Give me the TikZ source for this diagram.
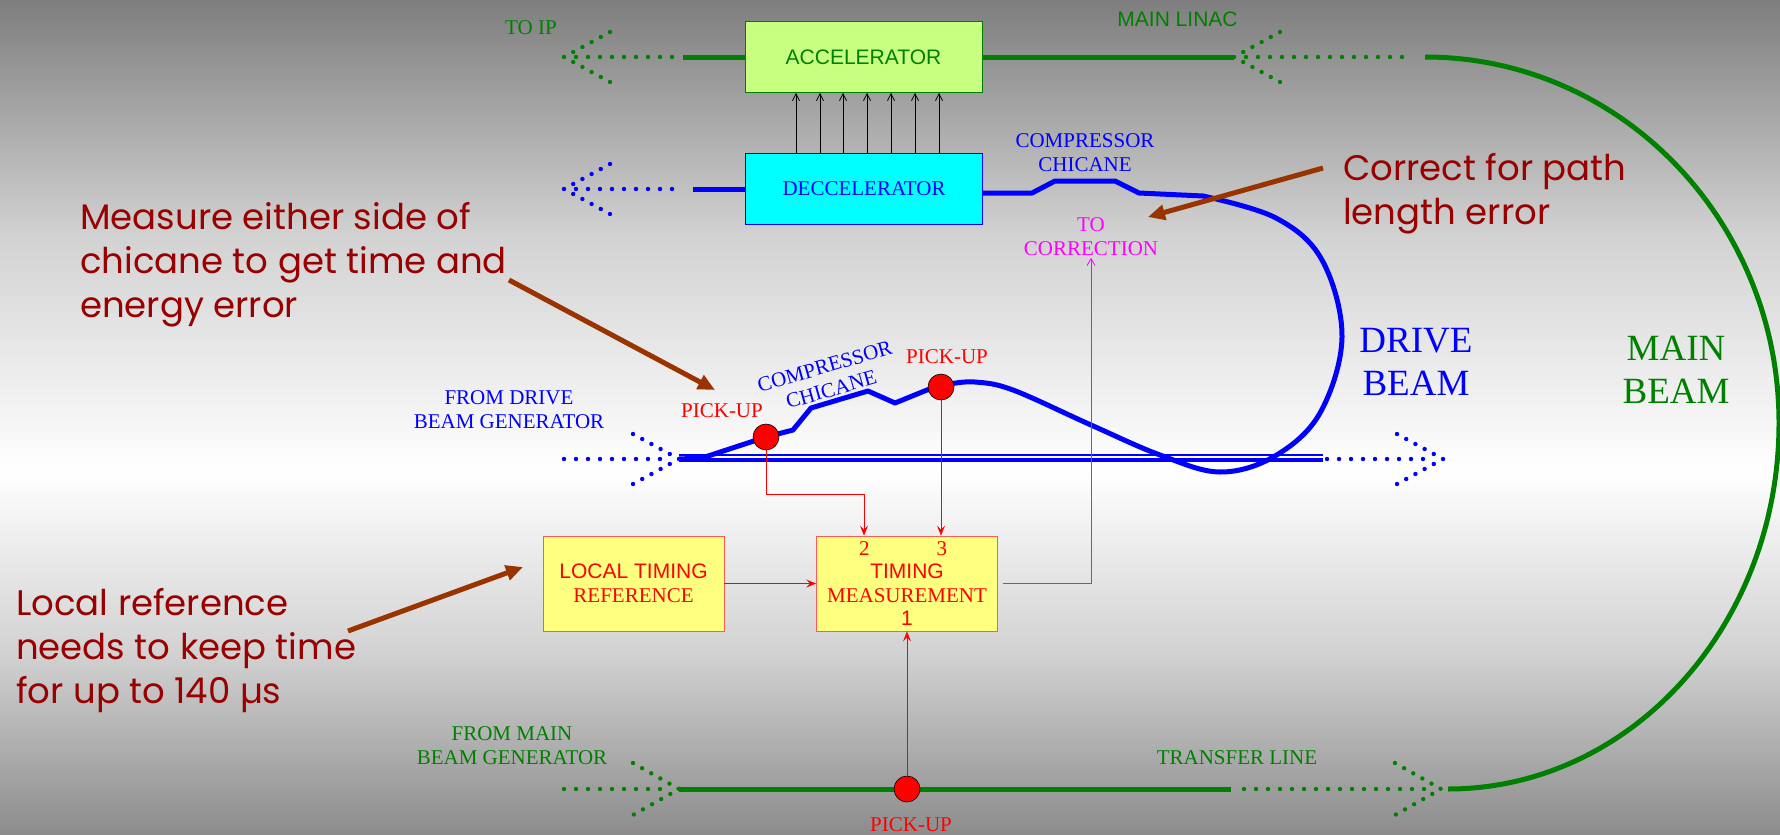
\documentclass[tikz,border=0pt]{standalone}
\usepackage{fontspec}
\setmainfont{Liberation Serif}
\setsansfont{Liberation Sans}
\newfontfamily\notefont{Poppins}
\usetikzlibrary{arrows.meta}

\definecolor{beamgreen}{RGB}{0,128,0}
\definecolor{beamblue}{RGB}{0,0,255}
\definecolor{decfill}{RGB}{0,255,255}
\definecolor{corrmag}{RGB}{255,0,255}
\definecolor{notered}{RGB}{153,0,0}
\definecolor{notebrown}{RGB}{153,51,0}
\definecolor{accfill}{RGB}{200,255,128}
\definecolor{boxyellow}{RGB}{255,255,128}
\definecolor{boxline}{RGB}{255,90,90}
\definecolor{bgtop}{RGB}{126,126,126}
\definecolor{bgmid}{RGB}{210,210,210}
\definecolor{bgbot}{RGB}{140,140,140}

\begin{document}
\begin{tikzpicture}[x=1pt, y=-1pt,
    lbl/.style={font=\fontsize{21}{24}\selectfont, align=center, inner sep=0pt},
    big/.style={font=\fontsize{37}{43}\selectfont, align=center, inner sep=0pt},
    note/.style={font=\notefont\fontsize{35.5}{44}\selectfont, text=notered, align=left, inner sep=0pt, anchor=base west},
    beambox/.style={draw, line width=0.8pt, minimum width=237pt, minimum height=71pt, inner sep=0pt},
    timebox/.style={draw=boxline, fill=boxyellow, line width=0.8pt, minimum width=181pt, minimum height=95pt, inner sep=0pt, text=red, align=center},
    pickup/.style={circle, draw=black, fill=red, line width=0.6pt, minimum size=26pt, inner sep=0pt},
    solidline/.style={line width=5pt},
    dotline/.style={line width=4.4pt, line cap=round, dash pattern=on 0pt off 12pt},
    dotarm/.style={line width=4.4pt, line cap=round, dash pattern=on 0pt off 10.47pt},
    sig/.style={red, line width=0.8pt, -{Stealth[length=10pt, width=8pt, inset=4pt]}},
    pointer/.style={notebrown, line width=5pt, -{Triangle[length=17pt, width=15pt]}}]
    % ==== BACKGROUND ====
    \shade[top color=bgtop, bottom color=white, middle color=bgmid] (0,0) rectangle (1780,471);
    \shade[top color=white, bottom color=bgbot, middle color=bgmid] (0,470) rectangle (1780,835);
    \useasboundingbox (0,0) rectangle (1780,835);

    % ==== MAIN BEAM ====
    \node[beambox, draw=beamgreen, fill=accfill, text=beamgreen, font=\sffamily\fontsize{21}{24}\selectfont] (acc) at (863.5,57) {ACCELERATOR};
    \draw[beamgreen, dotarm] (610,32) -- (564,57) -- (610,82);
    \draw[beamgreen, dotline] (576,57) -- (673,57);
    \draw[beamgreen, solidline] (683,57) -- (acc.west);
    \draw[beamgreen, solidline] (acc.east) -- (1234,57);
    \draw[beamgreen, dotarm] (1280,32) -- (1234,57) -- (1280,82);
    \draw[beamgreen, dotline] (1246,57) -- (1413,57);
    \draw[beamgreen, line width=5pt] (1425,57) .. controls (1621,57) and (1779,221) .. (1779,423)
        .. controls (1779,625) and (1631,789) .. (1448,789);
    \draw[beamgreen, dotline] (564,789) -- (664,789);
    \draw[beamgreen, dotarm] (633,763) -- (679,789) -- (633,815);
    \draw[beamgreen, solidline] (679,789) -- (1231,789);
    \draw[beamgreen, dotline] (1244,789) -- (1428,789);
    \draw[beamgreen, dotarm] (1395,763) -- (1441,789) -- (1395,815);
    \node[lbl, text=beamgreen] (toip) at (531,27.5) {TO IP};
    \node[lbl, text=beamgreen, font=\sffamily\fontsize{21}{24}\selectfont] (linac) at (1177.5,19) {MAIN LINAC};
    \node[lbl, text=beamgreen] (frommain) at (512,746) {FROM MAIN\\BEAM GENERATOR};
    \node[lbl, text=beamgreen] (transfer) at (1237,758) {TRANSFER LINE};
    \node[big, text=beamgreen] (mainbeam) at (1676,369.5) {MAIN\\BEAM};

    % ==== DRIVE BEAM ====
    \node[beambox, draw=beamblue, fill=decfill, text=beamblue, font=\fontsize{21}{24}\selectfont] (dec) at (864,188.5) {DECCELERATOR};
    \foreach \xx in {796,820,843,867,891,915,939}
        \draw[-{Straight Barb[length=7pt, width=7pt]}, line width=0.8pt] (\xx,0 |- dec.north) -- (\xx,0 |- acc.south);
    \draw[beamblue, dotarm] (610,164) -- (564,189) -- (610,214);
    \draw[beamblue, dotline] (576,189) -- (673,189);
    \draw[beamblue, solidline] (693,189) -- (dec.west |- 0,189);
    \draw[beamblue, dotline] (564,459) -- (664,459);
    \draw[beamblue, dotarm] (633,434) -- (679,459) -- (633,484);
    \draw[beamblue, line width=4pt] (679,460) -- (1323,460);
    \draw[beamblue, line width=1.2pt] (679,455) -- (1323,455);
    \draw[beamblue, dotline] (1327,459) -- (1428,459);
    \draw[beamblue, dotarm] (1397,434) -- (1443,459) -- (1397,484);
    \draw[beamblue, line width=5pt, line join=round] (dec.east |- 0,193) -- (1032,193) -- (1055,181) -- (1115,181) -- (1139,193) -- (1203,196)
        -- plot[smooth, tension=0.6] coordinates {(1203,196) (1276,218) (1322,260) (1342,337) (1320,413) (1275,456)
            (1220,472) (1160,455) (1091,425) (1013,390) (975,382) (950,384)}
        -- (927,390) -- (895,403) -- (868,391) -- (811,408) -- (793,430) -- (766,437) -- (702,458) -- (679,459);
    \node[lbl, text=beamblue] (chic1) at (1085,152.5) {COMPRESSOR\\CHICANE};
    \node[lbl, text=beamblue, rotate=16] (chic2) at (828,378) {COMPRESSOR\\CHICANE};
    \node[lbl, text=beamblue] (fromdrive) at (509,410) {FROM DRIVE\\BEAM GENERATOR};
    \node[big, text=beamblue] (drivebeam) at (1416,361.5) {DRIVE\\BEAM};

    % ==== PICK-UPS AND TIMING ====
    \node[pickup] (pu1) at (766,437) {};
    \node[pickup] (pu2) at (941,387) {};
    \node[pickup] (pu3) at (907,789) {};
    \node[lbl, text=red] (pu1lbl) at (722,410.5) {PICK-UP};
    \node[lbl, text=red] (pu2lbl) at (947,357) {PICK-UP};
    \node[lbl, text=red] (pu3lbl) at (911,825) {PICK-UP};
    \node[timebox, font=\fontsize{21}{24.5}\selectfont] (ltr) at (633.5,583.5) {{\sffamily LOCAL TIMING}\\REFERENCE};
    \node[timebox, font=\fontsize{21}{23.3}\selectfont] (tm) at (907,583.5) {\makebox[88pt]{2\hfill 3}\hspace*{8pt}\\{\sffamily TIMING}\\MEASUREMENT\\{\sffamily 1}};
    \node[lbl, text=corrmag] (corr) at (1091,236.5) {TO\\CORRECTION};
    \draw[sig] (pu1.south) |- (864,494) -- (864,0 |- tm.north);
    \draw[sig] (pu2) -- (pu2 |- tm.north);
    \draw[sig] (ltr) -- (tm);
    \draw[sig] (pu3) -- (pu3 |- tm.south);
    \draw[corrmag, line width=0.8pt, -{Straight Barb[length=7pt, width=8pt]}, shorten <=5pt, shorten >=2pt] (tm) -| (corr);

    % ==== NOTES ====
    \node[note] (note1) at (80,317) {Measure either side of\\chicane to get time and\\energy error};
    \node[note] (note2) at (1343,224) {Correct for path\\length error};
    \node[note] (note3) at (16,703) {Local reference\\needs to keep time\\for up to 140 µs};
    \coordinate (n1a) at (509,280);
    \coordinate (n1b) at (715,390);
    \coordinate (n2a) at (1323,168);
    \coordinate (n2b) at (1148,217);
    \coordinate (n3a) at (348,631);
    \coordinate (n3b) at (523,567);
    \draw[pointer] (n1a) -- (n1b);
    \draw[pointer] (n2a) -- (n2b);
    \draw[pointer] (n3a) -- (n3b);
\end{tikzpicture}
\end{document}
